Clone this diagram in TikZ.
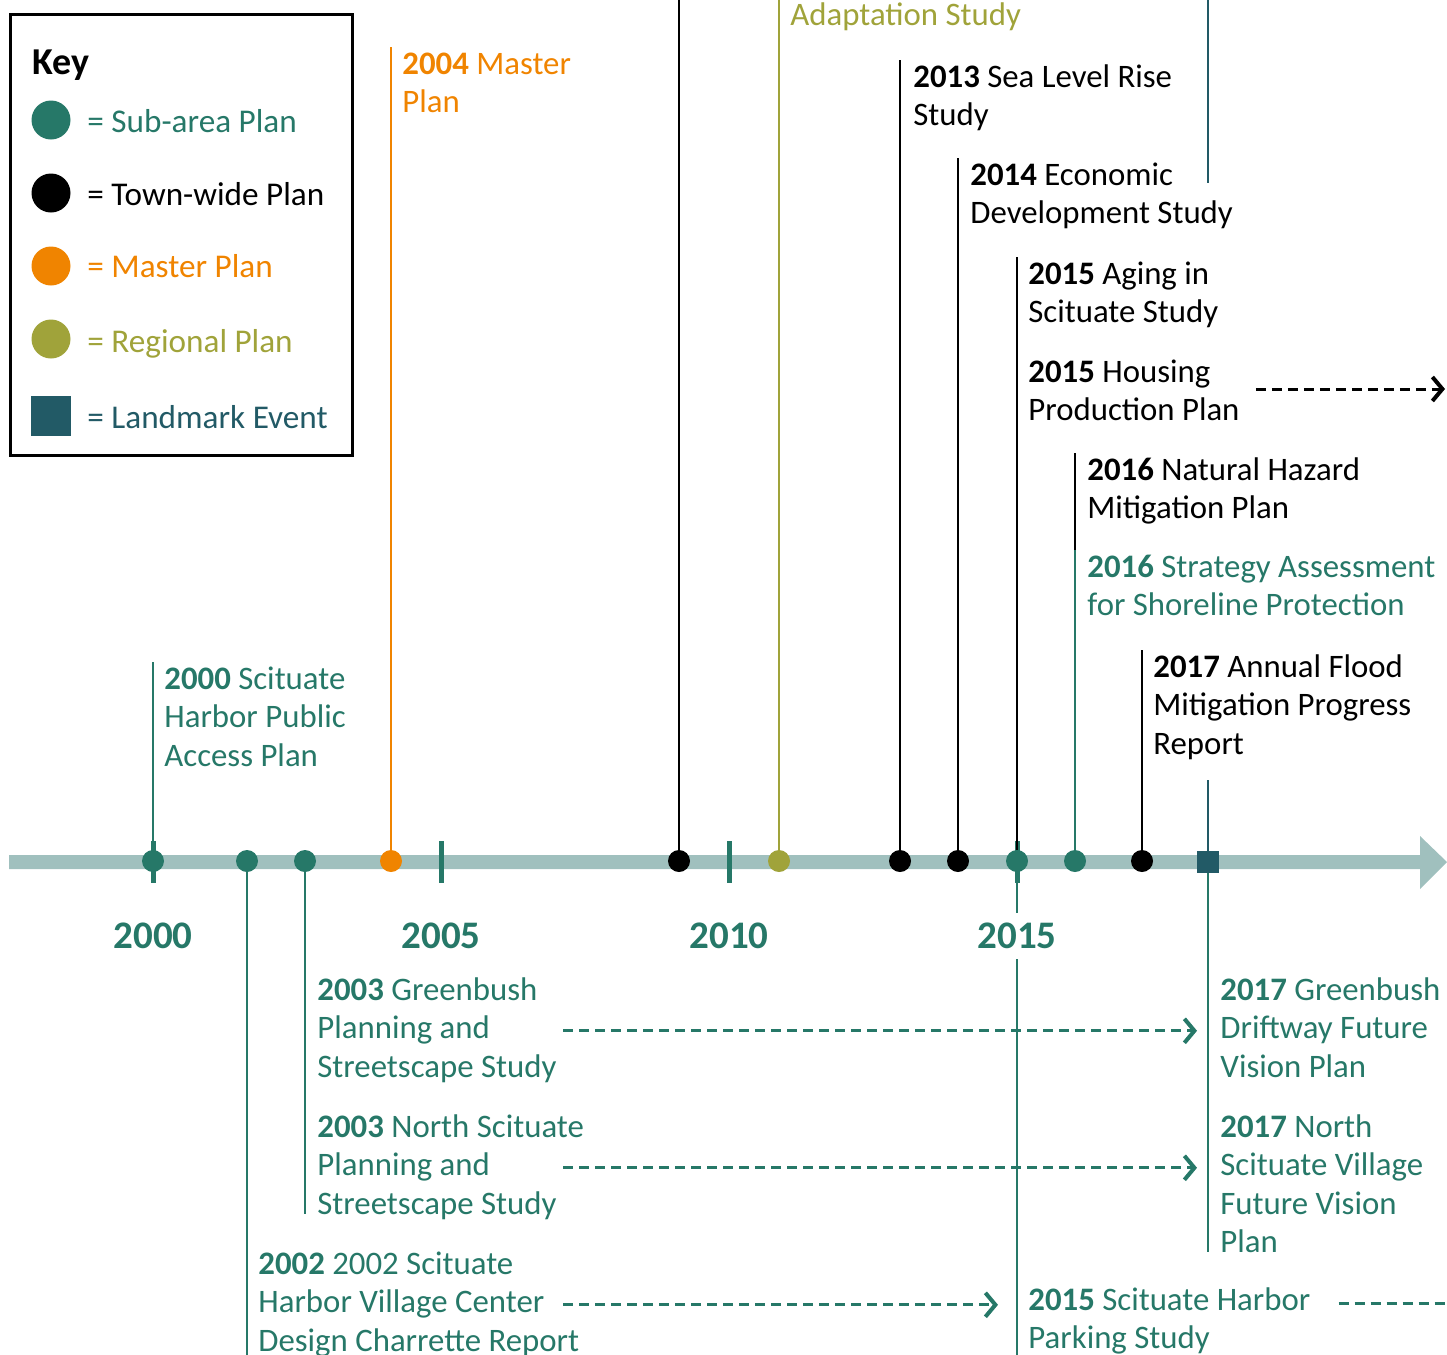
\documentclass[tikz,border=0pt]{standalone}
\usepackage{fontspec}
\setmainfont{Carlito}
\usetikzlibrary{arrows.meta}

\definecolor{subarea}{HTML}{267868}
\definecolor{master}{HTML}{F08400}
\definecolor{regional}{HTML}{A0A33A}
\definecolor{landmark}{HTML}{225A66}
\definecolor{band}{HTML}{A0C0BE}

\newcommand{\entry}[1]{\begin{tabular}[t]{@{}l@{}}#1\end{tabular}}

\begin{document}
\begin{tikzpicture}[x=0.5pt, y=-0.5pt,
    txt/.style={anchor=base west, inner sep=0pt, font=\fontsize{16.4}{19.25}\selectfont},
    keytxt/.style={anchor=base west, inner sep=0pt, font=\fontsize{16.6}{20}\selectfont},
    dot/.style={circle, fill=#1, minimum size=11pt, inner sep=0pt},
    keydot/.style={circle, fill=#1, minimum size=19.5pt, inner sep=0pt},
    stem/.style={draw=#1, line width=1.3pt},
    flow/.style={draw=#1, line width=1.5pt, dash pattern=on 5pt off 3pt,
        -{Straight Barb[length=5pt, width=12pt, line width=2pt]}},
    year/.style={font=\fontsize{19.5}{24}\selectfont\bfseries, text=subarea, fill=white, inner sep=5pt}]
    \useasboundingbox (0,0) rectangle (1447,1355);

    % time axis
    \fill[band] (9,855) -- (1420,855) -- (1420,836) -- (1447,862) -- (1420,889)
        -- (1420,869) -- (9,869) -- cycle;
    \foreach \x in {153,441,729,1017}
        \draw[subarea, line width=2.5pt] (\x,841) -- (\x,883);

    \node[dot=subarea] (d2000) at (153,861) {};
    \node[dot=subarea] (d2002) at (247,861) {};
    \node[dot=subarea] (d2003) at (305,861) {};
    \node[dot=master] (d2004) at (391,861) {};
    \node[dot=black] (d2009) at (679,861) {};
    \node[dot=regional] (d2011) at (779,861) {};
    \node[dot=black] (d2013) at (900,861) {};
    \node[dot=black] (d2014) at (958,861) {};
    \node[dot=subarea] (d2015) at (1017,861) {};
    \node[dot=subarea] (d2016) at (1075,861) {};
    \node[dot=black] (d2017) at (1142,861) {};
    \node[fill=landmark, minimum size=11pt, inner sep=0pt] (ev2017) at (1208,862) {};

    % key
    \draw[line width=1.5pt] (10,14) rectangle (352,455);
    \node[keytxt, font=\fontsize{19}{22}\selectfont\bfseries] (keyhead) at (32,74) {Key};
    \node[keydot=subarea] (ksub) at (51,120) {};
    \node[keydot=black] (ktown) at (51,193) {};
    \node[keydot=master] (kmaster) at (51,266) {};
    \node[keydot=regional] (kreg) at (51,339) {};
    \node[fill=landmark, minimum size=20pt, inner sep=0pt] (kland) at (51,416) {};
    \node[keytxt, text=subarea] (lsub) at (87,132) {= Sub-area Plan};
    \node[keytxt] (ltown) at (87,205) {= Town-wide Plan};
    \node[keytxt, text=master] (lmaster) at (87,277) {= Master Plan};
    \node[keytxt, text=regional] (lreg) at (87,352) {= Regional Plan};
    \node[keytxt, text=landmark] (lland) at (87,428) {= Landmark Event};

    % plans above the axis
    \node[txt, text=subarea] (t2000) at (164,689)
        {\entry{\textbf{2000} Scituate\\Harbor Public\\Access Plan}};
    \node[txt, text=master] (t2004) at (402,74) {\entry{\textbf{2004} Master\\Plan}};
    \node[txt, text=regional] (tAdapt) at (790,25) {\entry{Adaptation Study}};
    \node[txt] (t2013) at (913,87) {\entry{\textbf{2013} Sea Level Rise\\Study}};
    \node[txt] (t2014) at (970,185) {\entry{\textbf{2014} Economic\\Development Study}};
    \node[txt] (t2015a) at (1028,284) {\entry{\textbf{2015} Aging in\\Scituate Study}};
    \node[txt] (t2015h) at (1028,382) {\entry{\textbf{2015} Housing\\Production Plan}};
    \node[txt] (t2016n) at (1087,480) {\entry{\textbf{2016} Natural Hazard\\Mitigation Plan}};
    \node[txt, text=subarea] (t2016s) at (1087,577)
        {\entry{\textbf{2016} Strategy Assessment\\for Shoreline Protection}};
    \node[txt] (t2017f) at (1153,677)
        {\entry{\textbf{2017} Annual Flood\\Mitigation Progress\\Report}};

    % plans below the axis
    \node[txt, text=subarea] (t2003g) at (317,1000)
        {\entry{\textbf{2003} Greenbush\\Planning and\\Streetscape Study}};
    \node[txt, text=subarea] (t2003n) at (317,1137)
        {\entry{\textbf{2003} North Scituate\\Planning and\\Streetscape Study}};
    \node[txt, text=subarea] (t2002) at (258,1274)
        {\entry{\textbf{2002} 2002 Scituate\\Harbor Village Center\\Design Charrette Report}};
    \node[txt, text=subarea] (t2017g) at (1220,1000)
        {\entry{\textbf{2017} Greenbush\\Driftway Future\\Vision Plan}};
    \node[txt, text=subarea] (t2017n) at (1220,1137)
        {\entry{\textbf{2017} North\\Scituate Village\\Future Vision\\Plan}};
    \node[txt, text=subarea] (t2015p) at (1028,1310)
        {\entry{\textbf{2015} Scituate Harbor\\Parking Study}};

    % stems
    \coordinate (top2009) at (679,0);
    \coordinate (evtop) at (1208,0);
    \coordinate (evmid) at (1208,183);
    \coordinate (evlow) at (1208,780);
    \draw[stem=subarea] (d2000.north) -- (d2000 |- t2000.north);
    \draw[stem=subarea] (d2002.south) -- (d2002 |- t2002.south);
    \draw[stem=subarea] (d2003.south) -- ([yshift=6pt]d2003 |- t2003n.south);
    \draw[stem=master] (d2004.north) -- (d2004 |- t2004.north);
    \draw[stem=black] (d2009.north) -- (top2009);
    \draw[stem=regional] (d2011.north) -- (d2011 |- tAdapt.north);
    \draw[stem=black] (d2013.north) -- (d2013 |- t2013.north);
    \draw[stem=black] (d2014.north) -- (d2014 |- t2014.north);
    \draw[stem=black] (d2015.north) -- (d2015 |- t2015a.north);
    \draw[stem=subarea] (d2015.south) -- (d2015 |- t2015p.south);
    \draw[stem=black] (d2016.north) -- (d2016 |- t2016n.north);
    \draw[stem=subarea] (d2016.north) -- (d2016 |- t2016s.north);
    \draw[stem=black] (d2017.north) -- (d2017 |- t2017f.north);
    \draw[stem=landmark] (evtop) -- (evmid);
    \draw[stem=landmark] (ev2017.north) -- (evlow);
    \draw[stem=subarea] (ev2017.south) -- ([yshift=6pt]ev2017 |- t2017n.south);

    % carried forward
    \coordinate (carry) at (563,0);
    \coordinate (hEnd) at (1445,389);
    \coordinate (pEnd) at (1447,1303);
    \draw[flow=subarea] (carry |- t2003g.east) -- ([xshift=-11.5pt]t2003g.east -| t2017g.west);
    \draw[flow=subarea] (carry |- t2003n.east) -- ([xshift=-11.5pt]t2003n.east -| t2017n.west);
    \draw[flow=subarea] (carry |- t2002.east) -- ([xshift=-15pt]t2002.east -| t2015p.west);
    \draw[flow=black] ([xshift=8pt]t2015h.east |- hEnd) -- (hEnd);
    \draw[flow=subarea, -] ([xshift=14pt]t2015p.east |- pEnd) -- (pEnd);

    \node[year] (y2000) at (153,936) {2000};
    \node[year] (y2005) at (441,936) {2005};
    \node[year] (y2010) at (729,936) {2010};
    \node[year] (y2015) at (1017,936) {2015};
\end{tikzpicture}
\end{document}
